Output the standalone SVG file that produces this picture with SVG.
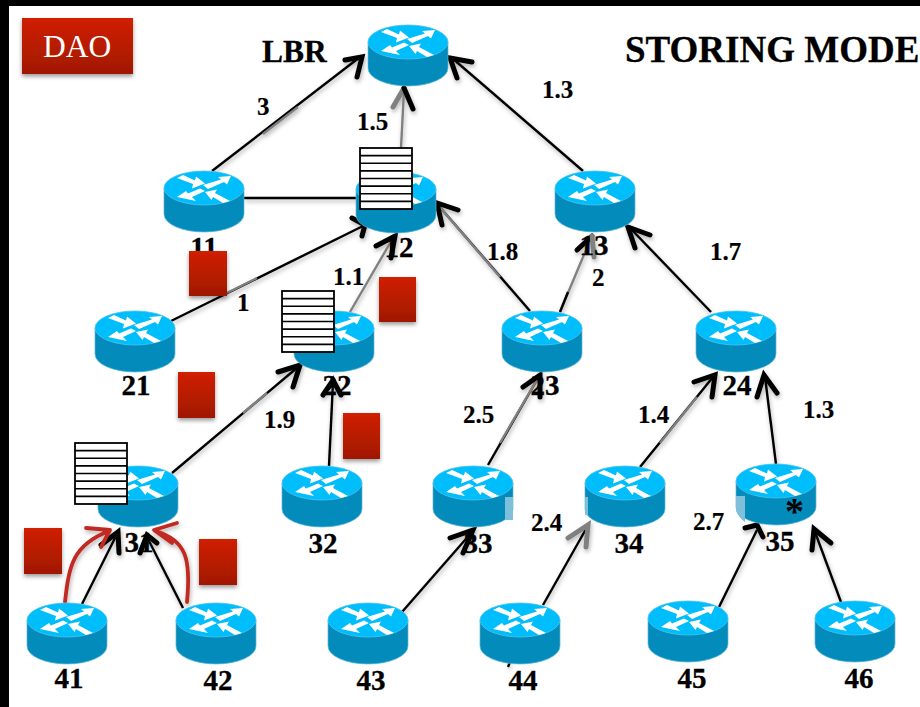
<svg xmlns="http://www.w3.org/2000/svg" xmlns:xlink="http://www.w3.org/1999/xlink" width="920" height="707" viewBox="0 0 920 707">
<style>
.l{fill:none;stroke:#000;stroke-width:2.4;stroke-linecap:butt}
.g{fill:none;stroke:#808080;stroke-width:2.4}
.h{fill:none;stroke:#000;stroke-width:5;stroke-linecap:round;stroke-linejoin:miter}
.hg{fill:none;stroke:#808080;stroke-width:5;stroke-linecap:round;stroke-linejoin:miter}
.r{fill:none;stroke:#C12B20;stroke-width:3.8;stroke-linecap:round;stroke-linejoin:round}
.n{font-family:"Liberation Serif","Times New Roman",serif;font-weight:700;font-size:29px;fill:#000;stroke:#000;stroke-width:.3;text-anchor:middle}
.e{font-family:"Liberation Serif","Times New Roman",serif;font-weight:700;font-size:25px;fill:#000;stroke:#000;stroke-width:.2;text-anchor:start}
.pkt{fill:url(#red);filter:url(#sh)}
.tb{fill:#fff;stroke:#000;stroke-width:1.8}
.tl{stroke:#000;stroke-width:1.6}
</style>
<defs>
<linearGradient id="red" x1="0" y1="0" x2="0" y2="1"><stop offset="0" stop-color="#D02000"/><stop offset="1" stop-color="#A01800"/></linearGradient>
<filter id="sh" x="-20%" y="-20%" width="140%" height="140%"><feDropShadow dx="0" dy="2.5" stdDeviation="2" flood-color="#000" flood-opacity=".4"/></filter>
<filter id="csh" x="-5%" y="-5%" width="110%" height="110%"><feDropShadow dx="1" dy="2.5" stdDeviation="2" flood-color="#000" flood-opacity=".3"/></filter>
<g id="router">
<path d="M0,17V43A40,18 0 0 0 80,43V17Z" fill="#028BBB" stroke="#5FB8D8" stroke-width=".7"/>
<ellipse cx="40" cy="17" rx="40" ry="17" fill="#00BDFB" stroke="#4FC4EC" stroke-width=".8"/>
<path fill="#fff" d="M13,7L19,4L31,9.5L32,5.5L41,12.5L28,17.5L29,13Z M67,5L54,6L57,8.5L39,14L44,18L60,11L63,13.5Z M13,26L22,20L24,22.5L36,17.5L41,20L28,26L32,30Z M66,30L59,32L49,26L47.5,29L41,21L53,18.5L51,22Z"/>
</g>
<g id="table">
<rect class="tb" x="0" y="0" width="52" height="61"/>
<path class="tl" d="M0,7.6H52M0,15.2H52M0,22.9H52M0,30.5H52M0,38.1H52M0,45.8H52M0,53.4H52"/>
</g>
</defs>
<rect width="920" height="707" fill="#fff"/>
<rect x="0" y="0" width="920" height="6" fill="#000"/>
<rect x="0" y="0" width="9" height="707" fill="#000"/>

<g id="connectors" filter="url(#csh)">
<path class="l" d="M212,171L360,57"/><path class="g" d="M263,134L298,107"/><path class="h" d="M345,60L362,57L357,77"/>
<path class="l" d="M244,198H360"/>
<path class="l" d="M171,321L363,226"/><path class="g" d="M227,293L257,278"/><path class="h" d="M352,218L365,225L362,236"/>
<path class="g" d="M350,312L393,238"/><path class="h" d="M376,246L395,236L391,258"/>
<path class="g" d="M401,148L404,90"/><path class="hg" d="M393,107L404,88"/><path class="h" d="M404,88L413,109"/>
<path class="l" d="M583,171L452,58"/><path class="h" d="M472,62L450,58L457,78"/>
<path class="l" d="M530,311L438,205"/><path class="g" d="M500,277L438,205"/><path class="h" d="M458,210L437,203L442,225"/>
<path class="g" d="M560,312L591,238"/><path class="l" d="M560,312L568,292"/><path class="h" d="M577,250L592,236"/><path class="hg" d="M592,236L594,257"/>
<path class="l" d="M711,312L630,228"/><path class="h" d="M650,235L628,227L635,248"/>
<path class="l" d="M172,473L298,367"/><path class="g" d="M243,413L267,393"/><path class="h" d="M278,372L300,365L293,387"/>
<path class="l" d="M329,466L333,382"/><path class="h" d="M323,395L333,380L341,395"/>
<path class="l" d="M82,604L117,534"/><path class="h" d="M101,545L118,532L119,553"/>
<path class="l" d="M183,608L147,537"/><path class="h" d="M140,553L147,535L157,543"/>
<path class="l" d="M488,465L538,378"/><path class="g" d="M500,443L538,378"/><path class="h" d="M523,387L540,375L540,397"/>
<path class="l" d="M640,467L713,377"/><path class="g" d="M660,443L697,397"/><path class="h" d="M694,382L715,375L712,397"/>
<path class="l" d="M776,464L765,377"/><path class="h" d="M757,397L764,375L777,393"/>
<path class="l" d="M402,612L472,532"/><path class="h" d="M450,538L473,530L463,553"/>
<path class="l" d="M543,605L586,529"/><path class="hg" d="M568,538L588,525L586,547"/>
<path class="l" d="M719,607L757,530"/><path class="h" d="M745,528L757,525L763,537"/>
<path class="l" d="M841,602L815,532"/><path class="h" d="M812,550L814,529L831,543"/>
<path class="l" d="M510,662L508,667"/>
<path class="r" d="M65,602C69,565 73,545 109,531M86,528L110,530L101,547"/>
<path class="r" d="M187,602C191,560 187,540 155,531M177,523L154,530L172,543"/>
</g>

<g id="node-lbr"><use href="#router" x="368" y="25"/><text x="262" y="62" style="font-family:'Liberation Serif',serif;font-weight:700;font-size:31.5px;stroke:#000;stroke-width:.3">LBR</text></g>
<g id="node-11"><use href="#router" x="164" y="171"/><text class="n" x="204" y="257">11</text></g>
<g id="node-12"><use href="#router" x="356" y="172"/><text class="n" x="399" y="257">12</text></g>
<g id="node-13"><use href="#router" x="555" y="171"/><text class="n" x="594" y="255">13</text></g>
<g id="node-21"><use href="#router" x="95" y="311"/><text class="n" x="136" y="395">21</text></g>
<g id="node-22"><use href="#router" x="294" y="311"/><text class="n" x="337" y="395">22</text></g>
<g id="node-23"><use href="#router" x="502" y="311"/><text class="n" x="545" y="395">23</text></g>
<g id="node-24"><use href="#router" x="696" y="311"/><text class="n" x="737" y="395">24</text></g>
<g id="node-31"><use href="#router" x="98" y="466"/><text class="n" x="139" y="552">31</text></g>
<g id="node-32"><use href="#router" x="282" y="466"/><text class="n" x="323" y="553">32</text></g>
<g id="node-33"><use href="#router" x="433" y="466"/><rect x="505" y="497" width="8" height="23" fill="#7EC0DA"/><text class="n" x="478" y="553">33</text></g>
<g id="node-34"><use href="#router" x="585" y="466"/><rect x="585" y="497" width="3" height="18" fill="#7EC0DA"/><text class="n" x="629" y="553">34</text></g>
<g id="node-35"><use href="#router" x="736" y="464"/><path d="M736,496H745V522Q739,518 736,511Z" fill="#7EC0DA"/><text class="n" x="780" y="551">35</text></g>
<g id="node-41"><use href="#router" x="27" y="603"/><text class="n" x="69" y="688">41</text></g>
<g id="node-42"><use href="#router" x="176" y="603"/><text class="n" x="218" y="690">42</text></g>
<g id="node-43"><use href="#router" x="328" y="603"/><text class="n" x="371" y="690">43</text></g>
<g id="node-44"><use href="#router" x="480" y="603"/><text class="n" x="523" y="690">44</text></g>
<g id="node-45"><use href="#router" x="648" y="601"/><text class="n" x="692" y="688">45</text></g>
<g id="node-46"><use href="#router" x="815" y="601"/><text class="n" x="859" y="688">46</text></g>

<g id="edge-labels">
<text class="e" x="257" y="115">3</text>
<text class="e" x="357" y="130">1.5</text>
<text class="e" x="333" y="285">1.1</text>
<text class="e" x="237" y="311">1</text>
<text class="e" x="542" y="98">1.3</text>
<text class="e" x="487" y="260">1.8</text>
<text class="e" x="592" y="286">2</text>
<text class="e" x="710" y="260">1.7</text>
<text class="e" x="264" y="428">1.9</text>
<text class="e" x="463" y="423">2.5</text>
<text class="e" x="638" y="423">1.4</text>
<text class="e" x="803" y="418">1.3</text>
<text class="e" x="531" y="531">2.4</text>
<text class="e" x="693" y="530">2.7</text>
<text x="785" y="524" style="font-family:'Liberation Serif',serif;font-weight:700;font-size:38px">*</text>
</g>

<g id="packets">
<rect class="pkt" x="189" y="251" width="38" height="45"/>
<rect class="pkt" x="379" y="277" width="37" height="45"/>
<rect class="pkt" x="178" y="372" width="37" height="46"/>
<rect class="pkt" x="343" y="413" width="37" height="46"/>
<rect class="pkt" x="24" y="528" width="38" height="46"/>
<rect class="pkt" x="199" y="539" width="38" height="46"/>
</g>
<g id="tables">
<use href="#table" x="360" y="148"/>
<use href="#table" x="282" y="291"/>
<use href="#table" x="75" y="443"/>
</g>
<g id="node-dao"><rect class="pkt" x="22" y="18" width="111" height="56"/><text x="43" y="57" style="font-family:'Liberation Serif',serif;font-size:31.5px;fill:#fff">DAO</text></g>
<text id="title" x="625" y="62" style="font-family:'Liberation Serif',serif;font-weight:700;font-size:37px;stroke:#000;stroke-width:.3">STORING MODE</text>
</svg>
